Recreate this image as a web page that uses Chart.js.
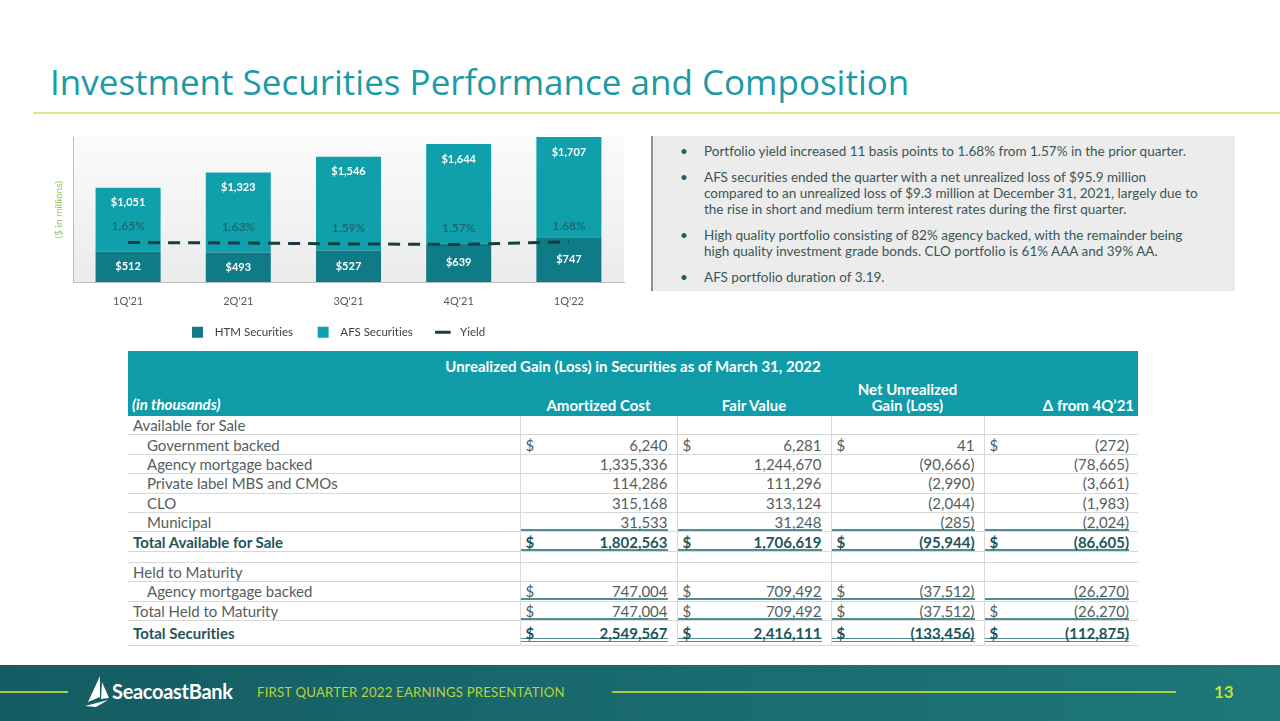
<!DOCTYPE html>
<html>
<head>
<meta charset="utf-8">
<script src="https://cdn.jsdelivr.net/npm/chart.js@4.4.0/dist/chart.umd.min.js"></script>
<style>
  body { margin: 0; width: 1280px; height: 721px; position: relative; overflow: hidden; background: #fff; font-family: Lato, "Open Sans", sans-serif; font-variant-ligatures: none; }
  .title { position: absolute; left: 50px; top: 58px; font-family: "Open Sans", sans-serif; font-size: 35px; color: #1c9aa5; white-space: nowrap; }
  .rule { position: absolute; left: 33px; right: 0; top: 112px; height: 2px; background: #dfe68f; }
  .chartbox { position: absolute; left: 45px; top: 125px; width: 592px; height: 225px; }
  .panel { position: absolute; left: 651px; top: 136px; width: 584px; height: 155px; background: #ececec; border-left: 2px solid #8a9494; box-sizing: border-box; color: #3a5656; font-size: 13.5px; }
  .panel ul { margin: 0; padding: 7px 31px 0 51px; list-style: none; }
  .panel li { position: relative; line-height: 16px; margin-bottom: 10px; }
  .panel li:before { content: "\2022"; position: absolute; left: -24px; }
  table { position: absolute; left: 128px; top: 351px; width: 1010px; border-collapse: collapse; table-layout: fixed; font-size: 15px; color: #555e5e; }
  th { background: #0f9ca8; color: #fff; font-weight: 700; font-size: 15px; padding: 0; }
  td { padding: 0; height: 18.4px; border-bottom: 1px solid #d8d8d8; white-space: nowrap; line-height: 18px; }
  td.v { border-left: 1px solid #d8d8d8; }
  td.lab { padding-left: 5px; }
  td.ind { padding-left: 19px; }
  .num { display: flex; justify-content: space-between; padding-left: 5px; margin-right: 9px; height: 18px; line-height: 18px; box-sizing: border-box; }
  .ul .num { border-bottom: 2px solid #4f8e92; }
  .dul .num { border-bottom: 4px double #4f8e92; }
  tr.bold td { font-weight: 700; color: #1f5559; }
  .footer { position: absolute; left: 0; top: 665px; width: 1280px; height: 56px; background: linear-gradient(90deg, #145c61 0%, #196a6e 50%, #1e7779 100%); }
  .fline { position: absolute; top: 26px; height: 2px; background: #a9cc3e; }
  .ftext { position: absolute; left: 257px; top: 19px; font-size: 13.2px; color: #b6d33a; letter-spacing: 0.2px; }
  .logo { position: absolute; left: 112px; top: 14px; font-size: 20px; color: #fff; font-weight: 700; letter-spacing: -0.3px; }
  .pnum { position: absolute; left: 1214px; top: 16px; font-size: 17px; font-weight: 700; color: #c5dc3c; }
</style>
</head>
<body>
<div class="title">Investment Securities Performance and Composition</div>
<div class="rule"></div>

<div class="chartbox"><canvas id="c"></canvas></div>

<div class="panel">
  <ul>
    <li>Portfolio yield increased 11 basis points to 1.68% from 1.57% in the prior quarter.</li>
    <li>AFS securities ended the quarter with a net unrealized loss of $95.9 million compared to an unrealized loss of $9.3 million at December 31, 2021, largely due to the rise in short and medium term interest rates during the first quarter.</li>
    <li>High quality portfolio consisting of 82% agency backed, with the remainder being high quality investment grade bonds. CLO portfolio is 61% AAA and 39% AA.</li>
    <li>AFS portfolio duration of 3.19.</li>
  </ul>
</div>

<table id="tbl"></table>

<div class="footer">
  <div class="fline" style="left:0;width:68px"></div>
  <svg style="position:absolute;left:84px;top:11px" width="26" height="32" viewBox="0 0 26 32">
    <path d="M16 0 L4 26 L16 21 Z" fill="#fff"/>
    <path d="M18 6 L25 22 L17 23 Z" fill="#fff"/>
    <path d="M1 30 L24 24 L12 31 Z" fill="#fff"/>
  </svg>
  <div class="logo">SeacoastBank</div>
  <div class="ftext">FIRST QUARTER 2022 EARNINGS PRESENTATION</div>
  <div class="fline" style="left:612px;width:564px"></div>
  <div class="pnum">13</div>
</div>

<script>
  // chart data
  var quarters = ["1Q'21", "2Q'21", "3Q'21", "4Q'21", "1Q'22"];
  var htm = [512, 493, 527, 639, 747];
  var afs = [1051, 1323, 1546, 1644, 1707];
  var yieldPct = [1.65, 1.63, 1.59, 1.57, 1.68];

  // table data
  var colHeads = ["Amortized Cost", "Fair Value", "Net Unrealized<br>Gain (Loss)", "\u0394 from 4Q\u201921"];
  var rowLabels = ["Available for Sale", "Government backed", "Agency mortgage backed", "Private label MBS and CMOs", "CLO", "Municipal",
    "Total Available for Sale", "", "Held to Maturity", "Agency mortgage backed", "Total Held to Maturity", "Total Securities"];
  var amortizedCost = ["", "6,240", "1,335,336", "114,286", "315,168", "31,533", "1,802,563", "", "", "747,004", "747,004", "2,549,567"];
  var fairValue = ["", "6,281", "1,244,670", "111,296", "313,124", "31,248", "1,706,619", "", "", "709,492", "709,492", "2,416,111"];
  var netUnrealized = ["", "41", "(90,666)", "(2,990)", "(2,044)", "(285)", "(95,944)", "", "", "(37,512)", "(37,512)", "(133,456)"];
  var deltaQ = ["", "(272)", "(78,665)", "(3,661)", "(1,983)", "(2,024)", "(86,605)", "", "", "(26,270)", "(26,270)", "(112,875)"];
  var dollarRows = {1: [1, 1, 1, 1], 6: [1, 1, 1, 1], 9: [1, 1, 1, 0], 10: [1, 1, 1, 1], 11: [1, 1, 1, 1]};
  var indentRows = [1, 2, 3, 4, 5, 9];
  var boldRows = [6, 11];
  var underlineRows = [5, 6, 9, 10];

  function buildTable() {
    var cols = [amortizedCost, fairValue, netUnrealized, deltaQ];
    var h = '<colgroup><col style="width:392px"><col style="width:157px"><col style="width:154px"><col style="width:153px"><col style="width:154px"></colgroup>';
    h += '<tr><th colspan="5" style="height:30px">Unrealized Gain (Loss) in Securities as of March 31, 2022</th></tr>';
    h += '<tr><th style="text-align:left;font-style:italic;padding-left:4px;vertical-align:bottom;padding-bottom:3px;height:31px">(in thousands)</th>';
    colHeads.forEach(function (c, j) {
      var al = j === 3 ? 'text-align:right;padding-right:4px;' : '';
      h += '<th style="' + al + 'vertical-align:bottom;padding-bottom:3px;line-height:16px">' + c + '</th>';
    });
    h += '</tr>';
    rowLabels.forEach(function (lab, i) {
      var cls = boldRows.indexOf(i) >= 0 ? ' class="bold"' : '';
      var tdH = i === 7 ? ' style="height:10px"' : (i === 11 ? ' style="height:24px"' : '');
      h += '<tr' + cls + '>';
      h += '<td class="' + (indentRows.indexOf(i) >= 0 ? 'ind' : 'lab') + '"' + tdH + '>' + lab + '</td>';
      cols.forEach(function (col, j) {
        var d = dollarRows[i] && dollarRows[i][j] ? '$' : '';
        var u = underlineRows.indexOf(i) >= 0 ? ' ul' : (i === 11 ? ' dul' : '');
        h += '<td class="v' + u + '"' + tdH + '>' + (col[i] || d ? '<div class="num"><span>' + d + '</span><span>' + col[i] + '</span></div>' : '') + '</td>';
      });
      h += '</tr>';
    });
    document.getElementById('tbl').innerHTML = h;
  }
  buildTable();

  var plotBg = {
    id: 'plotBg',
    beforeDraw: function (chart) {
      var a = chart.chartArea, ctx = chart.ctx;
      var g = ctx.createLinearGradient(0, a.top, 0, a.bottom);
      g.addColorStop(0, '#fbfbfb');
      g.addColorStop(1, '#ebebeb');
      ctx.save();
      ctx.fillStyle = g;
      ctx.fillRect(a.left, a.top, a.right - a.left, a.bottom - a.top);
      ctx.restore();
    }
  };

  var valueLabels = {
    id: 'valueLabels',
    afterDatasetsDraw: function (chart) {
      var ctx = chart.ctx;
      ctx.save();
      ctx.textAlign = 'center';
      ctx.textBaseline = 'middle';
      chart.getDatasetMeta(0).data.forEach(function (bar, i) {
        ctx.font = 'bold 11px Lato';
        ctx.fillStyle = '#ffffff';
        ctx.fillText('$' + htm[i].toLocaleString('en-US'), bar.x, (bar.y + bar.base) / 2);
      });
      chart.getDatasetMeta(1).data.forEach(function (bar, i) {
        ctx.fillText('$' + afs[i].toLocaleString('en-US'), bar.x, Math.max(bar.y, chart.chartArea.top) + 15);
      });
      chart.getDatasetMeta(2).data.forEach(function (pt, i) {
        ctx.font = '12px Lato';
        ctx.fillStyle = '#1f5b5f';
        ctx.fillText(yieldPct[i].toFixed(2) + '%', pt.x, pt.y - 16);
      });
      ctx.restore();
    }
  };

  var chart = new Chart("c", {
    data: {
      labels: quarters,
      datasets: [
        {type: "bar", label: "HTM Securities", data: htm, backgroundColor: "#0e7b86", yAxisID: 'y', order: 2,
          barPercentage: 0.59, categoryPercentage: 1},
        {type: "bar", label: "AFS Securities", data: afs, backgroundColor: "#0fa0ac", yAxisID: 'y', order: 2,
          barPercentage: 0.59, categoryPercentage: 1},
        {type: "line", label: "Yield", data: yieldPct, yAxisID: 'y1', order: 1,
          borderColor: "#163e40", backgroundColor: "#163e40", borderWidth: 3, borderDash: [12, 8], pointRadius: 0, fill: false},
      ]
    },
    options: {
      responsive: true,
      maintainAspectRatio: false,
      animation: false,
      layout: {padding: {top: 12, left: 8, right: 13, bottom: 2}},
      plugins: {
        tooltip: {enabled: false},
        legend: {
          position: 'bottom',
          labels: {
            usePointStyle: true,
            font: {family: 'Lato', size: 11.5},
            color: '#404040',
            padding: 10,
            boxHeight: 11,
            sort: function (a, b) { return a.datasetIndex - b.datasetIndex; },
            generateLabels: function (chart) {
              var n = chart.data.datasets.length;
              return chart.data.datasets.map(function (ds, i) {
                return {
                  text: '\u2002' + ds.label + (i < n - 1 ? '\u2003\u2002' : ''), datasetIndex: i,
                  fillStyle: ds.backgroundColor, strokeStyle: ds.backgroundColor,
                  lineWidth: ds.type === 'line' ? 3 : 0, pointStyle: ds.type === 'line' ? 'line' : 'rect', fontColor: '#404040'
                };
              });
            }
          }
        }
      },
      scales: {
        x: {
          stacked: true,
          grid: {display: false, drawTicks: false},
          border: {display: true, color: '#bfbfbf', width: 1},
          ticks: {padding: 12, color: '#595959', font: {family: 'Lato', size: 11}},
          afterFit: function (s) { s.height = 34; }
        },
        y: {
          stacked: true,
          min: 0,
          max: 2400,
          ticks: {display: false, stepSize: 1000},
          grid: {
            drawTicks: false,
            color: function (c) { return c.tick && c.tick.value > 0 && c.tick.value % 1000 === 0 ? '#dcdcdc' : 'rgba(0,0,0,0)'; }
          },
          border: {display: true, color: '#bfbfbf', width: 1},
          title: {display: true, text: '($ in millions)', color: '#92c955', font: {family: 'Lato', size: 10}, padding: {top: 0, bottom: 8}}
        },
        y1: {
          display: false,
          min: 0,
          max: 6
        }
      }
    },
    plugins: [plotBg, valueLabels]
  });
</script>
</body>
</html>
